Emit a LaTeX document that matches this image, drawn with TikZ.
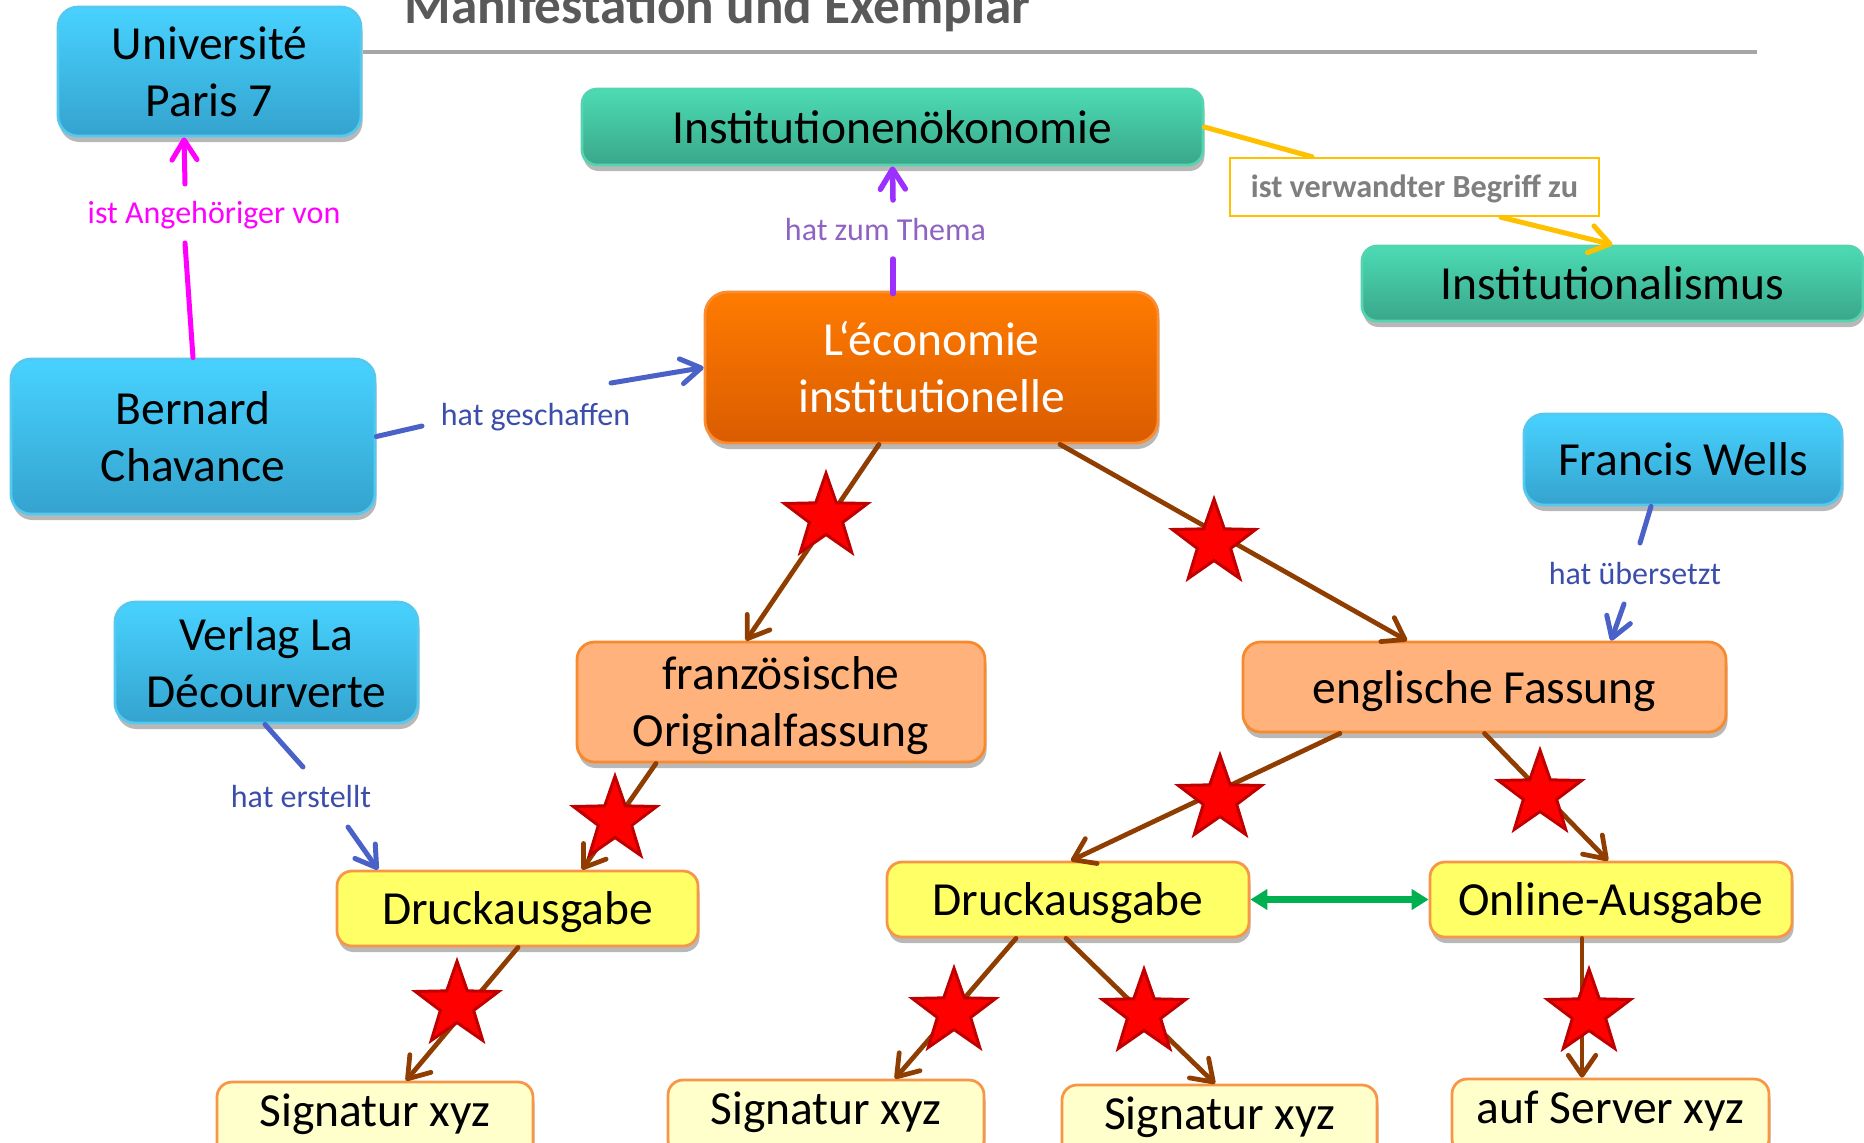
\documentclass[tikz,border=0pt]{standalone}
\usepackage{fontspec}
\setmainfont{Carlito}
\usetikzlibrary{shapes.geometric,arrows.meta,shadows,calc}

\definecolor{bluetop}{RGB}{72,210,255}
\definecolor{bluebot}{RGB}{52,163,206}
\definecolor{blueedge}{RGB}{85,200,240}
\definecolor{greentop}{RGB}{76,219,180}
\definecolor{greenbot}{RGB}{58,167,138}
\definecolor{greenedge}{RGB}{85,212,176}
\definecolor{orangetop}{RGB}{255,123,0}
\definecolor{orangebot}{RGB}{218,92,0}
\definecolor{orangeedge}{RGB}{250,140,50}
\definecolor{peach}{RGB}{255,178,123}
\definecolor{peachedge}{RGB}{248,138,45}
\definecolor{lemon}{RGB}{255,255,102}
\definecolor{cream}{RGB}{255,255,204}
\definecolor{softedge}{RGB}{247,150,70}
\definecolor{linkbrown}{RGB}{143,61,0}
\definecolor{linkblue}{RGB}{74,98,200}
\definecolor{textblue}{RGB}{59,78,170}
\definecolor{linkpurple}{RGB}{155,48,255}
\definecolor{textpurple}{RGB}{142,99,194}
\definecolor{linkpink}{RGB}{255,0,255}
\definecolor{linkgold}{RGB}{255,192,0}
\definecolor{linkgreen}{RGB}{0,176,80}
\definecolor{starred}{RGB}{255,0,0}
\definecolor{staredge}{RGB}{192,0,0}
\definecolor{rulegray}{RGB}{166,166,166}
\definecolor{titlegray}{RGB}{89,89,89}
\definecolor{relgray}{RGB}{127,127,127}

% struts fixing where the baseline sits inside the boxes
\newcommand\boxstrut{\rule[-5pt]{0pt}{22.8pt}}
\newcommand\sigstrut{\rule[-9.6pt]{0pt}{24.4pt}}
\newcommand\relstrut{\rule[-3.5pt]{0pt}{15pt}}

\begin{document}
\begin{tikzpicture}[
  x=0.4pt, y=-0.4pt,
  wh/.style 2 args={minimum width=#1*0.4pt, minimum height=#2*0.4pt},
  box/.style={rectangle, rounded corners=6pt, inner sep=0pt, align=center,
    font=\fontsize{19pt}{22.8pt}\selectfont, line width=1.1pt,
    drop shadow={shadow xshift=0.6pt, shadow yshift=-2.4pt, opacity=0.28, fill=black}},
  bluebox/.style={box, rounded corners=8pt, top color=bluetop, bottom color=bluebot, draw=blueedge},
  greenbox/.style={box, top color=greentop, bottom color=greenbot, draw=greenedge},
  mainbox/.style={box, rounded corners=9pt, top color=orangetop, bottom color=orangebot, draw=orangeedge, text=white},
  peachbox/.style={box, rounded corners=7pt, fill=peach, draw=peachedge},
  lemonbox/.style={box, fill=lemon, draw=softedge},
  creambox/.style={box, fill=cream, draw=softedge},
  lab/.style={font=\fontsize{12.8pt}{15pt}\selectfont, inner sep=0pt, anchor=base},
  relbox/.style={rectangle, draw=linkgold, line width=1pt, fill=white, inner sep=0pt,
    font=\fontsize{12.9pt}{15pt}\selectfont\bfseries, text=relgray},
  link/.style={line width=2pt, line cap=round},
  barb/.style={-{Straight Barb[round,length=8pt,width=11pt]}},
  brownlink/.style={link, draw=linkbrown, line width=1.9pt, barb},
  bluelink/.style={link, draw=linkblue},
  pinklink/.style={link, draw=linkpink},
  purplelink/.style={link, draw=linkpurple, line width=2.2pt},
  goldlink/.style={link, draw=linkgold},
  starmark/.style={star, star points=5, star point ratio=2.5, minimum size=35pt,
    inner sep=0pt, fill=starred, draw=staredge, line width=1.2pt}
]
\useasboundingbox (0,0) rectangle (1864,1142);

% heading and rule
\node[font=\fontsize{21.3pt}{24pt}\selectfont\bfseries, text=titlegray, inner sep=0pt, anchor=base west]
  (title) at (404,23) {Manifestation und Exemplar};
\draw[rulegray, line width=1.6pt] (363,52) -- (1757,52);

% concept boxes
\node[bluebox, wh={303}{129}] (univ) at (209.5,71.5) {\boxstrut Université\\\boxstrut Paris 7};
\node[bluebox, wh={364}{155}] (bernard) at (193,436.5) {\boxstrut Bernard\\\boxstrut Chavance};
\node[greenbox, wh={621}{76}] (instoek) at (892.5,127) {\boxstrut Institutionenökonomie};
\node[mainbox, wh={453}{151}] (econ) at (931.5,367.5) {\boxstrut L‘économie\\\boxstrut institutionelle};
\node[greenbox, wh={501}{75}] (instism) at (1612.5,283.5) {\boxstrut Institutionalismus};
\node[bluebox, wh={318}{91}] (francis) at (1683,459.5) {\boxstrut Francis Wells};
\node[bluebox, wh={303}{121}] (verlag) at (266.5,662.5) {\boxstrut Verlag La\\\boxstrut Décourverte};
\node[peachbox, wh={408}{120}] (franz) at (781,702) {\boxstrut französische\\\boxstrut Originalfassung};
\node[peachbox, wh={483}{90}] (engl) at (1484.5,687) {\boxstrut englische Fassung};
\node[lemonbox, wh={361}{75}] (druckL) at (517.5,908.5) {\boxstrut Druckausgabe};
\node[lemonbox, wh={362}{75}] (druckR) at (1068,899.5) {\boxstrut Druckausgabe};
\node[lemonbox, wh={362}{75}] (online) at (1611,899.5) {\boxstrut Online-Ausgabe};
\node[creambox, wh={316}{75}] (sigL) at (375,1119.5) {\sigstrut Signatur xyz};
\node[creambox, wh={316}{75}] (sigM) at (826,1117.5) {\sigstrut Signatur xyz};
\node[creambox, wh={315}{75}] (sigR) at (1219.5,1122.5) {\sigstrut Signatur xyz};
\node[creambox, wh={317}{75}] (server) at (1610.5,1116.5) {\sigstrut auf Server xyz};

% relation labels
\node[lab, text=linkpink] (lblmember) at (214,223) {ist Angehöriger von};
\node[lab, text=textpurple] (lbltopic) at (885.5,240) {hat zum Thema};
\node[lab, text=textblue] (lblcreated) at (535.5,425) {hat geschaffen};
\node[lab, text=textblue] (lbltransl) at (1635,584) {hat übersetzt};
\node[lab, text=textblue] (lblmade) at (301,807) {hat erstellt};
\node[relbox, wh={369}{58}] (lblrelated) at (1414.5,187) {\relstrut ist verwandter Begriff zu};

% free ends of the labelled links
\coordinate (m1) at (185,243);  \coordinate (m2) at (185,184);
\coordinate (t1) at (893,259);  \coordinate (t2) at (893,200);
\coordinate (g1) at (422,426);  \coordinate (g2) at (611,383);
\coordinate (u1) at (1640,543); \coordinate (u2) at (1624,604);
\coordinate (e1) at (303,767);  \coordinate (e2) at (348,827);

% labelled links
\draw[pinklink] (bernard.north) -- (m1);
\draw[pinklink, -{Straight Barb[round,length=8pt,width=10pt]}] (m2) -- ($(univ.south)+(-25.5,0)$);
\draw[purplelink] ($(econ.north)+(-38.5,3)$) -- (t1);
\draw[purplelink, -{Straight Barb[round,length=8pt,width=10pt]}] (t2) -- (instoek.south);
\draw[bluelink] (bernard.east) -- (g1);
\draw[bluelink, -{Straight Barb[round,length=8pt,width=10pt]}] (g2) -- (econ.west);
\draw[bluelink] ($(francis.south)+(-32,0)$) -- (u1);
\draw[bluelink, -{Straight Barb[round,length=8pt,width=10pt]}] (u2) -- ($(engl.north)+(126.5,0)$);
\draw[bluelink] ($(verlag.south)+(-1.5,0)$) -- (e1);
\draw[bluelink, -{Straight Barb[round,length=8pt,width=10pt]}] (e2) -- ($(druckL.north)+(-139.5,0)$);
\draw[goldlink] (instoek.east) -- ($(lblrelated.north)+(-102.5,0)$);
\draw[goldlink, -{Straight Barb[round,length=8pt,width=11pt]}] ($(lblrelated.south)+(86.5,0)$) -- (instism.north);

% derivation links
\draw[brownlink] ($(econ.south)+(-52.5,0)$) -- ($(franz.north)+(-35,0)$);
\draw[brownlink] ($(econ.south)+(128.5,0)$) -- ($(engl.north)+(-77.5,0)$);
\draw[brownlink] ($(franz.south)+(-125,0)$) -- ($(druckL.north)+(64.5,0)$);
\draw[brownlink] ($(druckL.south)+(0.5,0)$) -- ($(sigL.north)+(31,0)$);
\draw[brownlink] ($(engl.south)+(-144.5,0)$) -- ($(druckR.north)+(3,0)$);
\draw[brownlink] (engl.south) -- ($(online.north)+(-3,0)$);
\draw[brownlink] ($(druckR.south)+(-52,0)$) -- ($(sigM.north)+(69,0)$);
\draw[brownlink] ($(druckR.south)+(-2,0)$) -- ($(sigR.north)+(-4.5,0)$);
\draw[brownlink] ($(online.south)+(-29,0)$) -- ($(server.north)+(-28.5,0)$);

% equivalence link
\draw[linkgreen, line width=2.8pt, {Triangle[length=6.8pt,width=8pt]}-{Triangle[length=6.8pt,width=8pt]}]
  (druckR.east) -- (online.west);

% stars on the derivation links
\node[starmark] (st1) at (826,517) {};
\node[starmark] (st2) at (1214,543) {};
\node[starmark] (st3) at (615,820) {};
\node[starmark] (st4) at (457,1005) {};
\node[starmark] (st5) at (1220,799) {};
\node[starmark] (st6) at (1540,794) {};
\node[starmark] (st7) at (954,1012) {};
\node[starmark] (st8) at (1144,1013) {};
\node[starmark] (st9) at (1589,1013) {};
\end{tikzpicture}
\end{document}
